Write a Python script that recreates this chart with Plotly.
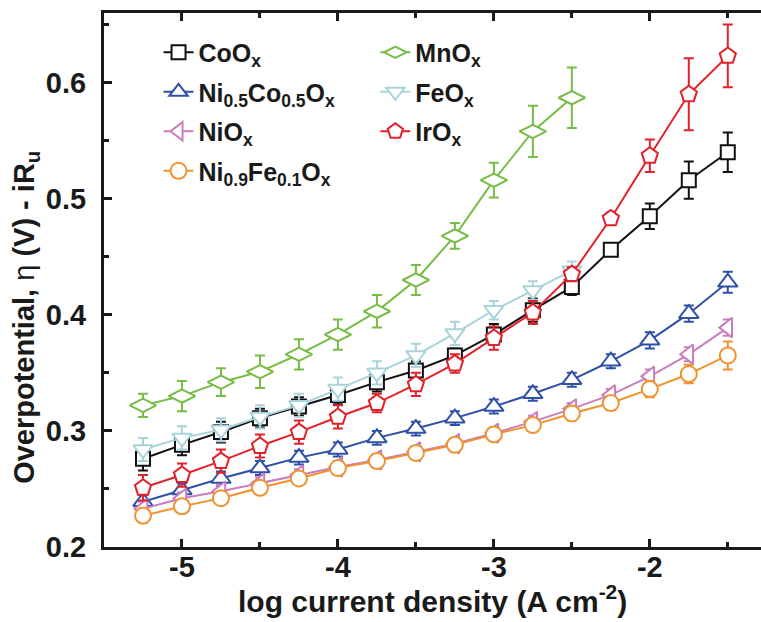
import plotly.graph_objects as go

log_j = [-5.25, -5.0, -4.75, -4.5, -4.25, -4.0, -3.75, -3.5, -3.25, -3.0, -2.75, -2.5, -2.25, -2.0, -1.75, -1.5]

coox = [0.276, 0.288, 0.299, 0.311, 0.321, 0.331, 0.342, 0.352, 0.365, 0.383, 0.404, 0.424, 0.456, 0.485, 0.516, 0.540]
coox_err = [0.010, 0.009, 0.009, 0.008, 0.008, 0.008, 0.008, 0.008, 0.006, 0.009, 0.010, 0.007, 0.004, 0.011, 0.016, 0.017]

ni5co5 = [0.239, 0.249, 0.259, 0.268, 0.277, 0.284, 0.294, 0.302, 0.311, 0.321, 0.332, 0.344, 0.360, 0.378, 0.401, 0.428]
ni5co5_err = [0.006, 0.006, 0.006, 0.006, 0.006, 0.006, 0.006, 0.006, 0.006, 0.006, 0.006, 0.006, 0.006, 0.007, 0.007, 0.009]

niox = [0.233, 0.242, 0.248, 0.255, 0.262, 0.269, 0.275, 0.282, 0.289, 0.298, 0.308, 0.319, 0.331, 0.347, 0.366, 0.389]
niox_err = [0.006, 0.005, 0.005, 0.005, 0.005, 0.005, 0.005, 0.005, 0.005, 0.005, 0.005, 0.005, 0.005, 0.006, 0.006, 0.007]

ni9fe1 = [0.227, 0.235, 0.242, 0.251, 0.259, 0.268, 0.274, 0.281, 0.288, 0.297, 0.305, 0.315, 0.324, 0.336, 0.349, 0.365]
ni9fe1_err = [0.006, 0.005, 0.005, 0.005, 0.005, 0.005, 0.005, 0.005, 0.005, 0.005, 0.005, 0.006, 0.006, 0.007, 0.008, 0.012]

log_j_mn = [-5.25, -5.0, -4.75, -4.5, -4.25, -4.0, -3.75, -3.5, -3.25, -3.0, -2.75, -2.5]
mnox = [0.322, 0.330, 0.342, 0.351, 0.366, 0.383, 0.403, 0.430, 0.468, 0.516, 0.558, 0.587]
mnox_err = [0.010, 0.013, 0.012, 0.014, 0.013, 0.013, 0.014, 0.013, 0.011, 0.015, 0.022, 0.026]

feox = [0.284, 0.294, 0.301, 0.312, 0.322, 0.336, 0.350, 0.365, 0.384, 0.404, 0.421, 0.438]
feox_err = [0.010, 0.010, 0.010, 0.010, 0.010, 0.010, 0.010, 0.010, 0.010, 0.008, 0.008, 0.008]

irox = [0.251, 0.262, 0.274, 0.287, 0.299, 0.312, 0.324, 0.340, 0.358, 0.380, 0.402, 0.435, 0.483, 0.537, 0.590, 0.623]
irox_err = [0.011, 0.010, 0.010, 0.010, 0.010, 0.010, 0.008, 0.010, 0.008, 0.010, 0.010, 0.006, 0.005, 0.014, 0.031, 0.027]

x_ticks = [-5, -4, -3, -2]
x_minor = [-4.5, -3.5, -2.5, -1.5]
y_ticks = [0.2, 0.3, 0.4, 0.5, 0.6]
y_minor = [0.25, 0.35, 0.45, 0.55, 0.65]

series = [
    ("CoO<sub>x</sub>", log_j, coox, coox_err, "#111111", "square", 14, "legend"),
    ("Ni<sub>0.5</sub>Co<sub>0.5</sub>O<sub>x</sub>", log_j, ni5co5, ni5co5_err, "#2E50A6", "triangle-up", 17, "legend"),
    ("NiO<sub>x</sub>", log_j, niox, niox_err, "#C97DBE", "triangle-left", 17, "legend"),
    ("Ni<sub>0.9</sub>Fe<sub>0.1</sub>O<sub>x</sub>", log_j, ni9fe1, ni9fe1_err, "#F0922E", "circle", 16, "legend"),
    ("MnO<sub>x</sub>", log_j_mn, mnox, mnox_err, "#76BC45", "diamond-wide", 19, "legend2"),
    ("FeO<sub>x</sub>", log_j_mn, feox, feox_err, "#A9D3DB", "triangle-down", 17, "legend2"),
    ("IrO<sub>x</sub>", log_j, irox, irox_err, "#E2222B", "pentagon", 17, "legend2"),
]

FAM = "Liberation Sans, Arial, sans-serif"
INK = "#1a1a1a"

fig = go.Figure()
for i, (name, x, y, e, col, sym, sz, lg) in enumerate(series):
    fig.add_trace(go.Scatter(
        x=x, y=y, name=name, mode="lines+markers",
        line=dict(color=col, width=2),
        marker=dict(symbol=sym, size=sz, color="white", line=dict(color=col, width=2)),
        error_y=dict(type="data", array=e, visible=True, color=col, thickness=2, width=5),
        legend=lg, legendgroup="g%d" % i,
    ))

legend_font = dict(size=25, family=FAM, weight="bold", color=INK)

fig.update_layout(
    width=761, height=622,
    margin=dict(l=104, r=0, t=13, b=75),
    plot_bgcolor="white", paper_bgcolor="white",
    font=dict(family=FAM, size=28, color=INK, weight="bold"),
    showlegend=True,
    legend=dict(x=0.083, y=0.969, xanchor="left", yanchor="top", bgcolor="rgba(0,0,0,0)",
                font=legend_font, tracegroupgap=4, traceorder="grouped"),
    legend2=dict(x=0.413, y=0.969, xanchor="left", yanchor="top", bgcolor="rgba(0,0,0,0)",
                 font=legend_font, tracegroupgap=4, traceorder="grouped"),
    xaxis=dict(
        range=[-5.5, -1.287], showgrid=False, zeroline=False,
        showline=True, linecolor=INK, linewidth=3, mirror="ticks",
        ticks="inside", ticklen=8, tickwidth=3, tickcolor=INK,
        tickvals=x_ticks, ticktext=[str(v) for v in x_ticks],
        minor=dict(tickvals=x_minor, ticks="inside", ticklen=5, tickwidth=3, tickcolor=INK),
        tickfont=dict(size=29), ticklabelstandoff=-8,
        automargin=False,
    ),
    yaxis=dict(
        range=[0.2, 0.66], showgrid=False, zeroline=False,
        showline=True, linecolor=INK, linewidth=3, mirror=False,
        ticks="inside", ticklen=8, tickwidth=3, tickcolor=INK,
        tickvals=y_ticks, ticktext=["%.1f" % v for v in y_ticks],
        minor=dict(tickvals=y_minor, ticks="inside", ticklen=5, tickwidth=3, tickcolor=INK),
        tickfont=dict(size=29), ticklabelstandoff=9,
        automargin=False,
    ),
    annotations=[
        dict(text="log current density (A cm<sup>-2</sup>)", xref="paper", yref="paper",
             x=0.5, y=-0.098, xanchor="center", yanchor="middle", showarrow=False,
             font=dict(size=30, family=FAM, weight="bold", color=INK)),
        dict(text="Overpotential, <span style='font-weight:normal'>η</span> (V) - iR<sub>u</sub>",
             xref="paper", yref="paper", x=-0.118, y=0.43, xanchor="center", yanchor="middle",
             textangle=-90, showarrow=False,
             font=dict(size=29, family=FAM, weight="bold", color=INK)),
    ],
)

fig.write_html("out.html")
